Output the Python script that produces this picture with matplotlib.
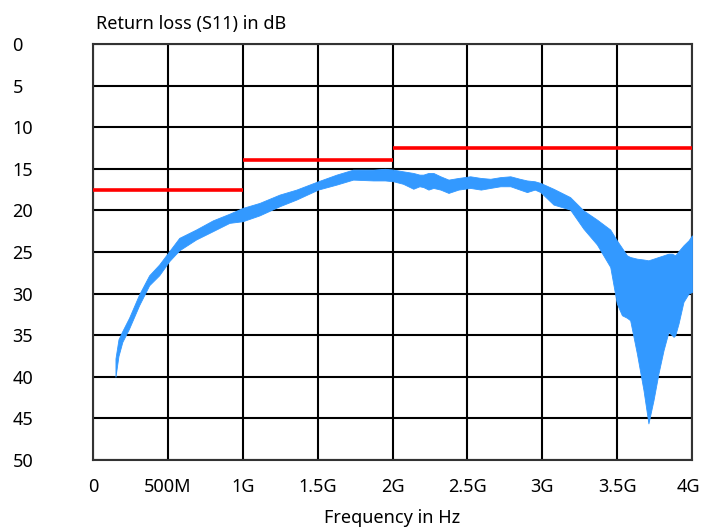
import matplotlib
matplotlib.use("Agg")
import matplotlib.pyplot as plt
import matplotlib.transforms as mtransforms

plt.rcParams['font.family'] = ['Noto Sans', 'DejaVu Sans']

# frequency in GHz, upper and lower edge of the measured band (dB)
freq = [0.150, 0.170, 0.196, 0.241, 0.308, 0.375, 0.442, 0.509, 0.576, 0.688,
        0.800, 0.911, 1.000, 1.112, 1.246, 1.358, 1.503, 1.626, 1.737, 1.871,
        1.950, 2.005, 2.070, 2.139, 2.180, 2.206, 2.240, 2.273, 2.320, 2.374,
        2.440, 2.519, 2.590, 2.653, 2.720, 2.787, 2.850, 2.898, 2.950, 2.988,
        3.075, 3.186, 3.275, 3.365, 3.454, 3.498, 3.532, 3.565, 3.587, 3.632,
        3.676, 3.709, 3.743, 3.776, 3.810, 3.843, 3.866, 3.877, 3.888, 3.910,
        3.943, 3.977, 4.000]
s11_top = [37.8, 35.5, 34.5, 32.9, 30.1, 27.8, 26.5, 24.9, 23.3, 22.3,
           21.2, 20.4, 19.7, 19.1, 18.1, 17.5, 16.5, 15.7, 15.1, 15.1,
           15.0, 15.1, 15.3, 15.5, 15.7, 15.7, 15.5, 15.5, 15.9, 16.3,
           16.1, 15.9, 16.1, 16.2, 16.0, 15.9, 16.2, 16.4, 16.5, 16.7,
           17.4, 18.4, 20.0, 21.1, 22.3, 23.6, 24.5, 25.4, 25.6, 25.8,
           25.9, 26.0, 25.8, 25.6, 25.4, 25.2, 25.2, 25.3, 25.4, 24.9,
           24.2, 23.6, 23.0]
s11_bottom = [40.0, 37.5, 35.8, 34.2, 31.4, 29.0, 27.8, 26.1, 24.8, 23.5,
              22.5, 21.5, 21.3, 20.6, 19.5, 18.7, 17.5, 16.9, 16.3, 16.4,
              16.4, 16.5, 16.8, 17.4, 17.1, 17.2, 17.5, 17.3, 17.5, 17.9,
              17.5, 17.3, 17.5, 17.3, 17.1, 17.1, 17.5, 17.8, 17.5, 17.8,
              19.3, 19.9, 22.2, 24.1, 26.8, 31.2, 32.6, 32.9, 33.2, 37.2,
              41.6, 45.6, 42.8, 39.6, 36.8, 34.6, 35.0, 35.2, 35.0, 33.6,
              31.0, 30.0, 29.8]

# limit mask: start GHz, end GHz, level dB
limit_start = [0.0, 1.0, 2.0]
limit_end = [1.0, 2.0, 4.0]
limit_level = [17.5, 14.0, 12.5]

xticks = [0, 0.5, 1, 1.5, 2, 2.5, 3, 3.5, 4]
xtick_labels = ['0', '500M', '1G', '1.5G', '2G', '2.5G', '3G', '3.5G', '4G']
yticks = [0, 5, 10, 15, 20, 25, 30, 35, 40, 45, 50]

fig = plt.figure(figsize=(7.02, 5.31), dpi=100)
ax = fig.add_axes([93 / 702, 1 - 460 / 531, 599 / 702, 416 / 531])

ax.fill_between(freq, s11_top, s11_bottom, color='#3399ff', linewidth=0.6,
                edgecolor='#3399ff', zorder=3)
ax.hlines(limit_level, limit_start, limit_end, colors='#ff0000', linewidth=2.6, zorder=4)

ax.set_xlim(0, 4)
ax.set_ylim(50, 0)
ax.set_xticks(xticks)
ax.set_xticklabels(xtick_labels)
ax.set_yticks(yticks)
ax.set_yticklabels([str(v) for v in yticks], ha='left')
ax.tick_params(axis='both', length=0, labelsize=13, colors='#000000')
ax.tick_params(axis='y', pad=58)
ax.tick_params(axis='x', pad=13)
ax.grid(True, color='#000000', linewidth=1.5, zorder=1)
ax.set_axisbelow(True)
for sp in ax.spines.values():
    sp.set_color('#333333')
    sp.set_linewidth(1.5)

# keep the last label inside the figure
last = ax.get_xticklabels()[-1]
last.set_transform(last.get_transform() + mtransforms.ScaledTranslation(-4 / 100, 0, fig.dpi_scale_trans))

ax.set_title('Return loss (S11) in dB', loc='left', fontsize=13, pad=11, x=0.005)
ax.set_xlabel('Frequency in Hz', fontsize=13, labelpad=9)

fig.savefig('out.png', dpi=100)
